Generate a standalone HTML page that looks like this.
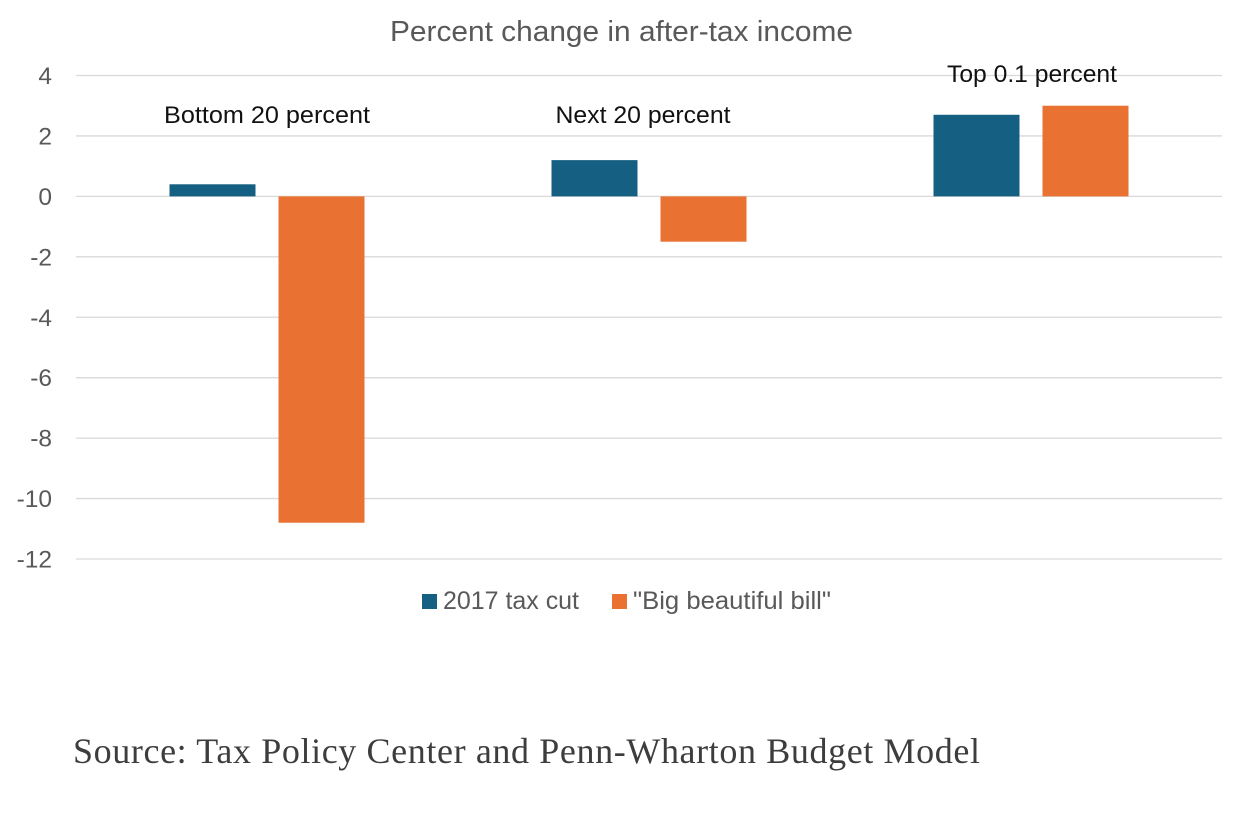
<!DOCTYPE html>
<html lang="en">
<head>
<meta charset="utf-8">
<title>Percent change in after-tax income</title>
<style>
html,body{margin:0;padding:0;background:#fff;}
svg{display:block;}
text{font-family:"Liberation Sans",sans-serif;}
</style>
</head>
<body>
<svg id="chart" xmlns="http://www.w3.org/2000/svg" width="1256" height="818" viewBox="0 0 1256 818">
<rect width="1256" height="818" fill="#fff"/>
<text x="390" y="41" font-size="29" fill="#595959" textLength="463" lengthAdjust="spacingAndGlyphs">Percent change in after-tax income</text>
<g id="grid"></g>
<g id="yticks"></g>
<g id="bars"></g>
<g id="cats"></g>
<g>
<rect x="422" y="594" width="15" height="15" fill="#156082"/>
<text x="443" y="609" font-size="25" fill="#595959" textLength="136" lengthAdjust="spacingAndGlyphs">2017 tax cut</text>
<rect x="612" y="594" width="15" height="15" fill="#e97132"/>
<text x="633" y="609" font-size="25" fill="#595959" textLength="198" lengthAdjust="spacingAndGlyphs">"Big beautiful bill"</text>
</g>
<text x="73" y="763" font-size="36" fill="#3d3d3d" style="font-family:'Liberation Serif',serif" textLength="907" lengthAdjust="spacing">Source: Tax Policy Center and Penn-Wharton Budget Model</text>
</svg>
<script>
const categories = ["Bottom 20 percent", "Next 20 percent", "Top 0.1 percent"];
const seriesNames = ["2017 tax cut", "Big beautiful bill"];
const taxCut2017 = [0.4, 1.2, 2.7];
const bigBeautifulBill = [-10.8, -1.5, 3.0];
const yTicks = [4, 2, 0, -2, -4, -6, -8, -10, -12];

const NS = "http://www.w3.org/2000/svg";
const plot = { left: 76, right: 1222, top: 75.5, bottom: 559 };
const yMax = 4, yMin = -12;
const yScale = v => plot.top + (yMax - v) / (yMax - yMin) * (plot.bottom - plot.top);
const bandWidth = (plot.right - plot.left) / categories.length;
const bandCenter = i => plot.left + bandWidth * (i + 0.5);
const barWidth = 86, barGap = 23;
const labelYOffsets = [123, 123, 82];
const labelWidths = [206, 175, 170];
const labelShift = [0, -6, 1];

function make(tag, attrs, parent) {
  const el = document.createElementNS(NS, tag);
  for (const k in attrs) el.setAttribute(k, attrs[k]);
  parent.appendChild(el);
  return el;
}

const grid = document.getElementById("grid");
const yt = document.getElementById("yticks");
yTicks.forEach(t => {
  const y = yScale(t);
  const line = make("line", { x1: plot.left, x2: plot.right, y1: y, y2: y, stroke: "#d9d9d9", "stroke-width": 1.3 }, grid);
  
  
  const label = make("text", { x: 52, y: y + 8.5, "text-anchor": "end", "font-size": 24.5, fill: "#595959" }, yt);
  
  
  label.textContent = String(t);
});

const bars = document.getElementById("bars");
function drawBar(v, x, color, name) {
  const y0 = yScale(0), y1 = yScale(v);
  const r = make("rect", { x: x, y: Math.min(y0, y1), width: barWidth, height: Math.abs(y1 - y0), fill: color }, bars);
  
  
}
categories.forEach((c, i) => {
  const cx = bandCenter(i);
  drawBar(taxCut2017[i], cx - barGap / 2 - barWidth, "#156082", "bar-2017-tax-cut");
  drawBar(bigBeautifulBill[i], cx + barGap / 2, "#e97132", "bar-big-beautiful-bill");
});

const cats = document.getElementById("cats");
categories.forEach((c, i) => {
  const t = make("text", { x: bandCenter(i) - labelWidths[i] / 2 + labelShift[i], y: labelYOffsets[i], "font-size": 24, fill: "#111", textLength: labelWidths[i], lengthAdjust: "spacingAndGlyphs" }, cats);
  
  
  t.textContent = c;
});
</script>
</body>
</html>
